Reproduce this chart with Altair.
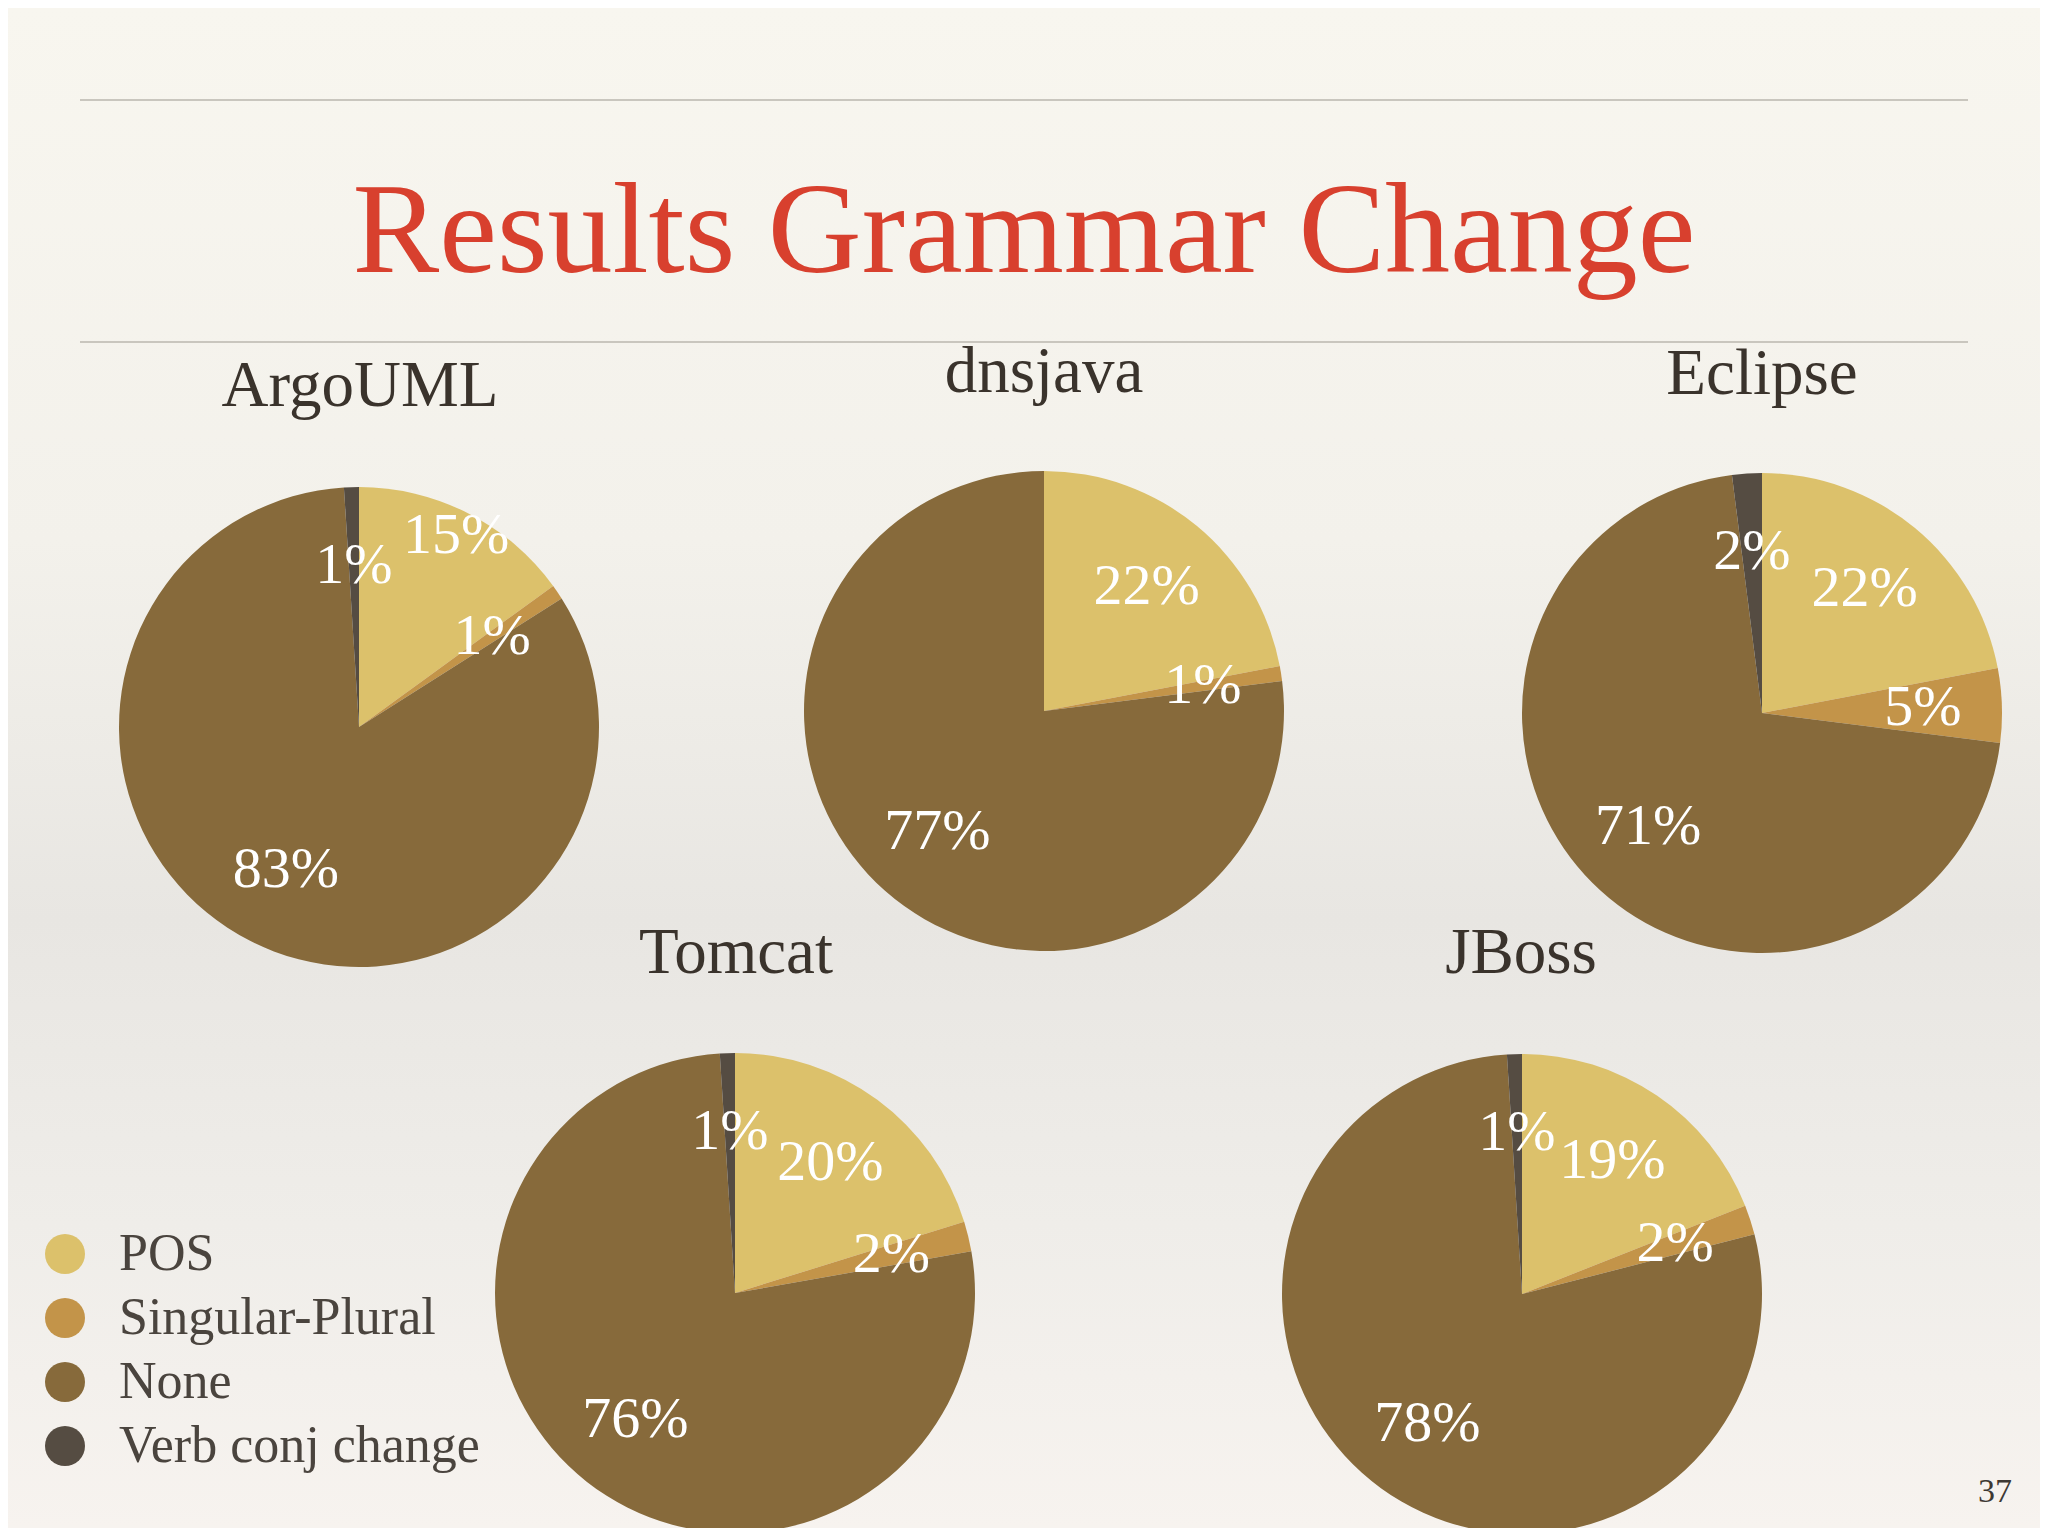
import altair as alt
import pandas as pd

# ---- data ----
projects = ["ArgoUML", "dnsjava", "Eclipse", "Tomcat", "JBoss"]
categories = ["POS", "Singular-Plural", "None", "Verb conj change"]
argouml = [15, 1, 83, 1]
dnsjava = [22, 1, 77, 0]
eclipse = [22, 5, 71, 2]
tomcat = [20, 2, 76, 1]
jboss = [19, 2, 78, 1]
colors = ["#dcc16b", "#c39449", "#876a3b", "#554c42"]
title_text = "Results Grammar Change"
page_number = "37"

rows = []
for p, vals in zip(projects, [argouml, dnsjava, eclipse, tomcat, jboss]):
    for i, (c, v) in enumerate(zip(categories, vals)):
        rows.append({"project": p, "category": c, "k": i, "value": v, "label": f"{v}%"})
df = pd.DataFrame(rows)

# ---- layout ----
W, H = 2032, 1520
R = 240
FONT = "Liberation Serif"
centers = {"ArgoUML": (351, 719), "dnsjava": (1036, 703), "Eclipse": (1754, 705),
           "Tomcat": (727, 1285), "JBoss": (1514, 1286)}
name_pos = {"ArgoUML": (352, 398), "dnsjava": (1036, 384), "Eclipse": (1754, 386),
            "Tomcat": (728, 965), "JBoss": (1513, 965)}

one = pd.DataFrame({"t": [title_text]})

bg = alt.Chart(one).mark_rect(
    color=alt.Gradient(
        gradient="linear", x1=0, x2=0, y1=0, y2=1,
        stops=[
            alt.GradientStop(offset=0, color="#f8f6ef"),
            alt.GradientStop(offset=0.35, color="#f3f1eb"),
            alt.GradientStop(offset=0.6, color="#e8e6e2"),
            alt.GradientStop(offset=0.8, color="#efede9"),
            alt.GradientStop(offset=1, color="#f7f3ef"),
        ],
    )
).encode(x=alt.value(0), x2=alt.value(W), y=alt.value(0), y2=alt.value(H))

rule1 = alt.Chart(one).mark_rule(color="#c9c6be", strokeWidth=2).encode(
    x=alt.value(72), x2=alt.value(1960), y=alt.value(92))
rule2 = alt.Chart(one).mark_rule(color="#c9c6be", strokeWidth=2).encode(
    x=alt.value(72), x2=alt.value(1960), y=alt.value(334))

title = alt.Chart(one).mark_text(
    font=FONT, fontSize=130, color="#d8402e", align="center", baseline="alphabetic"
).encode(text="t:N", x=alt.value(1016), y=alt.value(264))

page = alt.Chart(pd.DataFrame({"t": [page_number]})).mark_text(
    font=FONT, fontSize=34, color="#3d3833", align="center", baseline="alphabetic"
).encode(text="t:N", x=alt.value(1987), y=alt.value(1494))

layers = [bg, rule1, rule2, title, page]

base = alt.Chart(df)
for p in projects:
    cx, cy = centers[p]
    arc = base.transform_filter(alt.datum.project == p).mark_arc(outerRadius=R).encode(
        theta=alt.Theta("value:Q", stack=True),
        order=alt.Order("k:Q"),
        color=alt.Color(
            "category:N",
            scale=alt.Scale(domain=categories, range=colors),
            legend=alt.Legend(
                title=None, orient="none", legendX=31, legendY=1220,
                symbolType="circle", symbolSize=1600, symbolStrokeWidth=0,
                symbolOpacity=1, labelFont=FONT, labelFontSize=52,
                labelColor="#4a443e", labelOffset=28, rowPadding=12, padding=0,
                labelLimit=600,
            ),
        ),
        x=alt.value(cx), y=alt.value(cy),
    )
    txt = base.transform_filter(
        (alt.datum.project == p) & (alt.datum.value > 0)
    ).mark_text(
        font=FONT, fontSize=58, color="white", align="center", baseline="middle",
        # a small first slice next to the top slice gets its label pushed outward
        radius=alt.ExprRef(expr="datum.k == 0 && datum.value < 18 ? 214 : 161"),
    ).encode(
        theta=alt.Theta("value:Q", stack=True),
        order=alt.Order("k:Q"),
        text="label:N",
        x=alt.value(cx), y=alt.value(cy),
    )
    nx, ny = name_pos[p]
    name = alt.Chart(pd.DataFrame({"n": [p]})).mark_text(
        font=FONT, fontSize=65, color="#3a332c", align="center", baseline="alphabetic"
    ).encode(text="n:N", x=alt.value(nx), y=alt.value(ny))
    layers += [arc, txt, name]

chart = alt.layer(*layers).resolve_scale(theta="independent").properties(
    width=W, height=H, autosize=alt.AutoSizeParams(type="none"), padding=0,
    background="#f5f3ed",
).configure_view(stroke=None)

chart.save("out.html", embed_options={"renderer": "svg", "actions": False})
